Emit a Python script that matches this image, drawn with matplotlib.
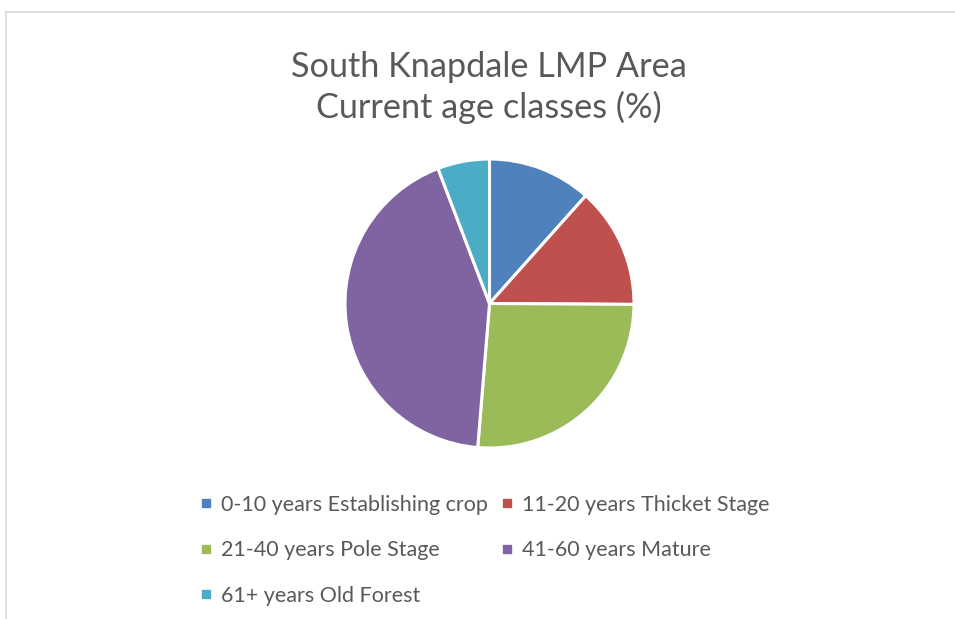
import matplotlib
matplotlib.use("Agg")
import matplotlib.pyplot as plt
from matplotlib.lines import Line2D

# age class shares (%), clockwise from 12 o'clock
age_classes = ["0-10 years Establishing crop", "11-20 years Thicket Stage",
               "21-40 years Pole Stage", "41-60 years Mature", "61+ years Old Forest"]
shares = [11.6, 13.5, 26.2, 42.9, 5.8]
colours = ["#4f81bd", "#c0504d", "#9bbb59", "#8064a2", "#4bacc6"]

title_lines = ["South Knapdale LMP Area", "Current age classes (%)"]

plt.rcParams['font.family'] = ['Lato', 'DejaVu Sans']
text_grey = "#595959"

W, H = 955, 619
fig = plt.figure(figsize=(W / 100, H / 100), dpi=100)

# chart area frame (only top and left edges visible in the crop)
fig.add_artist(Line2D([6 / W, 1], [1 - 12 / H, 1 - 12 / H], color="#d9d9d9", lw=1.2))
fig.add_artist(Line2D([6 / W, 6 / W], [0, 1 - 12 / H], color="#d9d9d9", lw=1.2))

# pie axes placed around centre (489.5, 303.5) px, radius 144.5 px
cx, cy, r = 489.5, 303.5, 144.5
ax = fig.add_axes([(cx - r) / W, (H - cy - r) / H, 2 * r / W, 2 * r / H])
wedges, _ = ax.pie(shares, colors=colours, startangle=90, counterclock=False,
                   radius=1.0, wedgeprops=dict(edgecolor="white", linewidth=2.2))
ax.set_xlim(-1, 1)
ax.set_ylim(-1, 1)
ax.set_aspect("equal")
ax.axis("off")

# title, two lines
fig.text(489 / W, 1 - 77 / H, title_lines[0], ha="center", va="baseline",
         fontsize=24.7, color=text_grey)
fig.text(489 / W, 1 - 118 / H, title_lines[1], ha="center", va="baseline",
         fontsize=24.7, color=text_grey)

# legend: column-wise fill gives blue/green/cyan left, red/purple right
order = [0, 2, 4, 1, 3]
handles = [Line2D([], [], marker="s", linestyle="none", markersize=5.8,
                  markerfacecolor=colours[i], markeredgecolor=colours[i]) for i in order]
labels = [age_classes[i] for i in order]
leg = fig.legend(handles, labels, ncol=2, loc="upper left",
                 bbox_to_anchor=(201 / W, 1 - 495 / H), frameon=False,
                 fontsize=15.45, handlelength=0.5, handletextpad=0.45,
                 labelspacing=1.18, columnspacing=0.6, borderpad=0, borderaxespad=0)
for t in leg.get_texts():
    t.set_color(text_grey)

fig.savefig("out.png", dpi=100, facecolor="white")
